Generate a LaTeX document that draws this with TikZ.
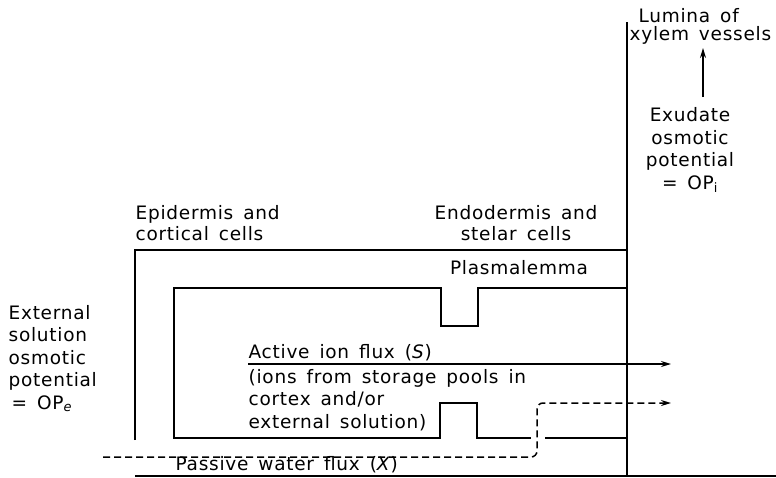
\documentclass[tikz,border=0pt]{standalone}
\usepackage{fontspec}
\setmainfont{DejaVu Sans}[LetterSpace=4, WordSpace=1.5]
\usetikzlibrary{arrows.meta}
\begin{document}
\begin{tikzpicture}[x=1pt,y=-1pt,line width=1.3pt,
  lbl/.style={font=\fontsize{18.5}{21}\selectfont, inner sep=0pt, align=left},
  lblc/.style={font=\fontsize{18.5}{21}\selectfont, inner sep=0pt, align=center},
  wall/.style={line width=1.3pt},
  flow/.style={line width=1.3pt, -{Stealth[length=10pt,width=6pt]}},
  dflow/.style={line width=1.5pt, dash pattern=on 7pt off 4pt, rounded corners=6pt, -{Stealth[length=10pt,width=6pt]}}]
\useasboundingbox (0,0) rectangle (776,477);
% labels (anchor = baseline of the last line)
\node[lbl, anchor=base west] (lumina) at (629,40) {\hspace{9pt}Lumina of\\[-3pt]xylem vessels};
\node[lblc, anchor=base] (exudate) at (690,189) {Exudate\\[1.5pt]osmotic\\[1.5pt]potential\\[1.5pt]= OP\textsubscript{i}};
\node[lbl, anchor=base west] (epi) at (135,240) {Epidermis and\\cortical cells};
\node[lblc, anchor=base] (endo) at (516,240) {Endodermis and\\stelar cells};
\node[lblc, anchor=base] (plasma) at (519,274) {Plasmalemma};
\node[lbl, anchor=base west] (ext) at (8,409) {External\\[1.5pt]solution\\[1.5pt]osmotic\\[1.5pt]potential\\[1.5pt]\,= OP\textsubscript{\textit{e}}};
\node[lbl, anchor=base west] (active) at (248,358) {Active ion flux (\textit{S})};
\node[lbl, anchor=base west] (ions) at (248,428) {(ions from storage pools in\\[1.5pt]cortex and/or\\[1.5pt]external solution)};
\node[lbl, anchor=base west] (passive) at (175,470) {Passive water flux (\textit{X})};
% coordinates
\coordinate (vtop) at (627,22);
\coordinate (vbot) at (627,476);
\coordinate (btmL) at (135,476);
\coordinate (btmR) at (776,476);
\coordinate (xarrB) at (703,97);
\coordinate (xarrT) at (703,48);
\coordinate (aS) at (248,364);
\coordinate (aE) at (671,364);
\coordinate (wS) at (103,457);
\coordinate (wB) at (537,457);
\coordinate (wT) at (537,403);
\coordinate (wE) at (671,403);
% walls
\draw[wall] (vtop) -- (vbot);
\draw[wall] (btmL) -- (btmR);
\draw[wall] (135,440) -- (135,250) -- (627,250);
\draw[wall] (627,288) -- (478,288) -- (478,326) -- (441,326) -- (441,288) -- (174,288) -- (174,438) -- (440,438) -- (440,403) -- (477,403) -- (477,438) -- (531,438);
\draw[wall] (545,438) -- (627,438);
% arrows
\draw[flow] (xarrB) -- (xarrT);
\draw[flow] (aS) -- (aE);
\draw[dflow] (wS) -- (wB) -- (wT) -- (wE);
\end{tikzpicture}
\end{document}
